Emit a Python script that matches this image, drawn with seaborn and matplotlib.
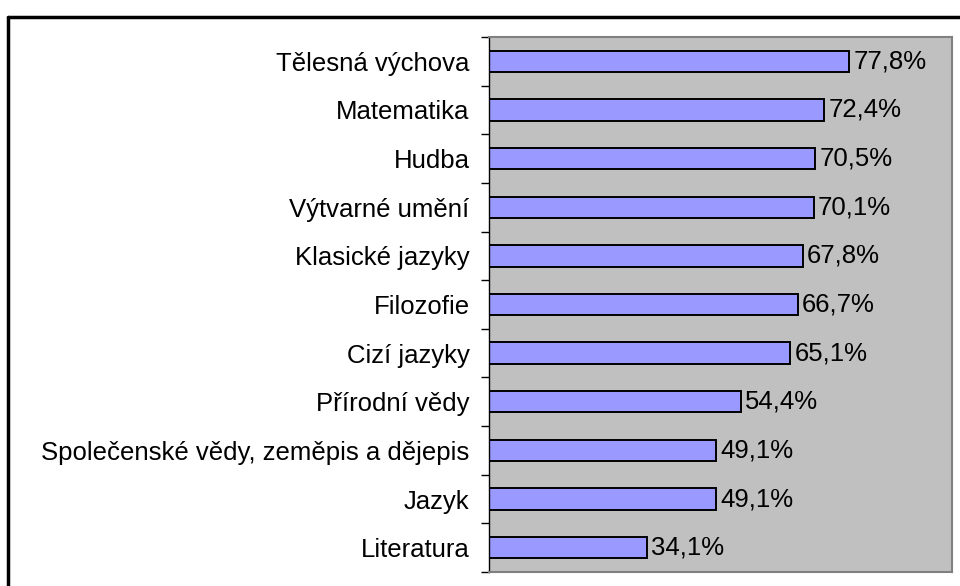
import pandas as pd
import matplotlib.pyplot as plt
import seaborn as sns
from matplotlib.lines import Line2D
from matplotlib.ticker import FixedLocator

# data
subjects = ['Tělesná výchova', 'Matematika', 'Hudba', 'Výtvarné umění',
            'Klasické jazyky', 'Filozofie', 'Cizí jazyky', 'Přírodní vědy',
            'Společenské vědy, zeměpis a dějepis', 'Jazyk', 'Literatura']
shares = [77.8, 72.4, 70.5, 70.1, 67.8, 66.7, 65.1, 54.4, 49.1, 49.1, 34.1]
share_labels = ['77,8%', '72,4%', '70,5%', '70,1%', '67,8%', '66,7%',
                '65,1%', '54,4%', '49,1%', '49,1%', '34,1%']

df = pd.DataFrame({'subject': subjects, 'share': shares})

sns.set_style('white')
plt.rcParams['font.family'] = ['Liberation Sans', 'DejaVu Sans']
plt.rcParams['text.color'] = 'black'
plt.rcParams['ytick.labelcolor'] = 'black'

fig = plt.figure(figsize=(9.6, 5.86), dpi=100)
ax = fig.add_axes([489 / 960, 1 - 572 / 586, (952 - 489) / 960, (572 - 37) / 586])

sns.barplot(data=df, x='share', y='subject', orient='h', ax=ax,
            color='#9999FF', saturation=1, width=0.44,
            edgecolor='black', linewidth=1.4)

ax.set_facecolor('#C0C0C0')
ax.set_xlim(0, 100)
ax.set_ylim(len(subjects) - 0.5, -0.5)
ax.set_xlabel('')
ax.set_ylabel('')
ax.set_xticks([])

for side in ['top', 'right', 'bottom']:
    ax.spines[side].set_color('#808080')
    ax.spines[side].set_linewidth(1.5)
ax.spines['left'].set_color('black')
ax.spines['left'].set_linewidth(1)

# category labels without ticks, tick marks between categories
ax.tick_params(axis='y', which='major', length=0, pad=14, labelsize=18.5, labelcolor='black')
ax.yaxis.set_minor_locator(FixedLocator([i - 0.5 for i in range(len(subjects) + 1)]))
ax.tick_params(axis='y', which='minor', length=6, width=1, color='black', left=True)

ax.bar_label(ax.containers[0], labels=share_labels, padding=3, fontsize=18.5, color='black')

# outer chart border
fig.add_artist(Line2D([8 / 960, 8 / 960], [0, 1 - 17 / 586], color='black', lw=2.5))
fig.add_artist(Line2D([8 / 960, 1], [1 - 17 / 586, 1 - 17 / 586], color='black', lw=2.5))

fig.savefig('out.png', dpi=100, facecolor='white')
